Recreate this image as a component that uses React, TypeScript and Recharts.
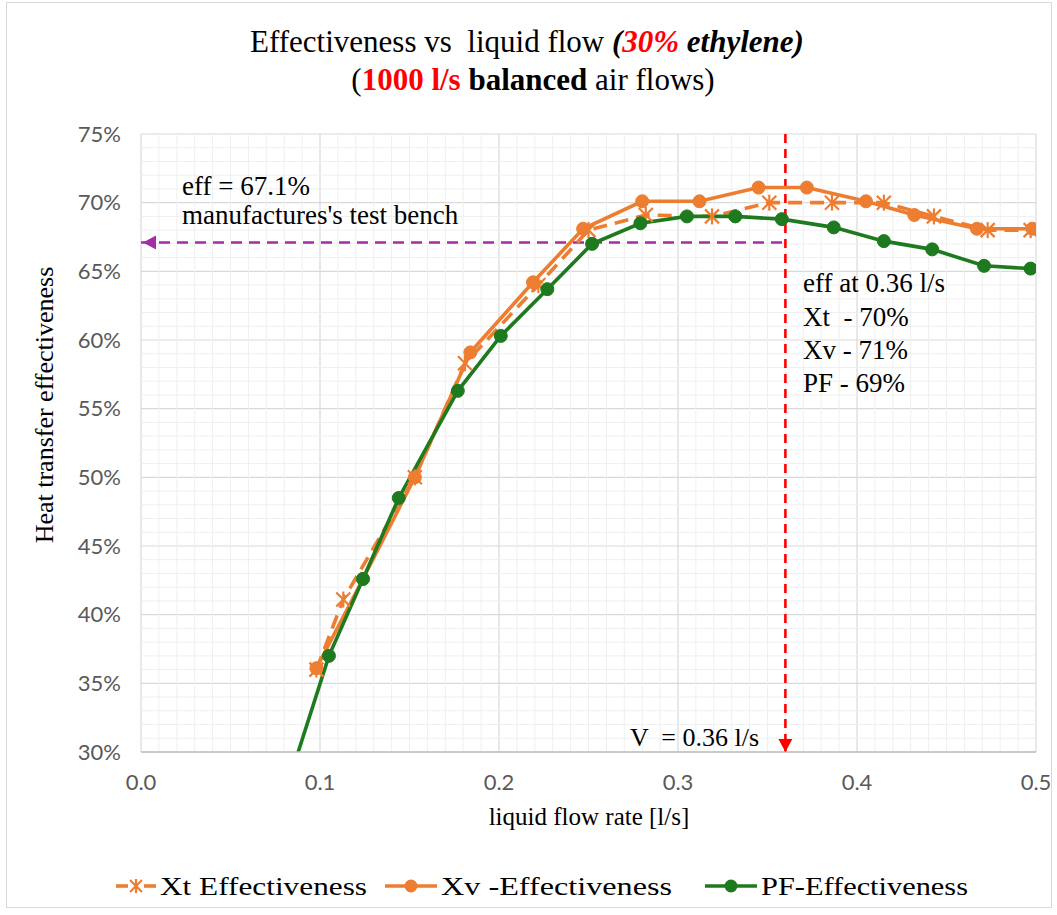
import React from 'react';
import { LineChart, Line, XAxis, YAxis, CartesianGrid, ReferenceLine, ReferenceDot } from 'recharts';

// ---- data (flow in l/s, effectiveness in %) ----
const xtFlow = [0.098, 0.113, 0.153, 0.181, 0.222, 0.250, 0.282, 0.319, 0.351, 0.386, 0.415, 0.443, 0.473, 0.497];
const xtEff = [36.0, 41.1, 50.0, 58.3, 64.0, 68.0, 69.1, 69.0, 70.0, 70.0, 70.0, 69.0, 68.0, 68.0];

const xvFlow = [0.098, 0.124, 0.153, 0.184, 0.219, 0.247, 0.280, 0.312, 0.345, 0.372, 0.405, 0.432, 0.467, 0.498];
const xvEff = [36.1, 42.6, 50.0, 59.1, 64.2, 68.1, 70.1, 70.1, 71.1, 71.1, 70.1, 69.1, 68.1, 68.1];

const pfFlow = [0.078, 0.105, 0.124, 0.144, 0.177, 0.201, 0.227, 0.252, 0.279, 0.305, 0.332, 0.358, 0.387, 0.415, 0.442, 0.471, 0.497];
const pfEff = [26.0, 37.0, 42.6, 48.5, 56.3, 60.3, 63.7, 67.0, 68.5, 69.0, 69.0, 68.8, 68.2, 67.2, 66.6, 65.4, 65.2];

const xTicks = [0, 0.1, 0.2, 0.3, 0.4, 0.5];
const yTicks = [0.30, 0.35, 0.40, 0.45, 0.50, 0.55, 0.60, 0.65, 0.70, 0.75];

const benchEff = 0.671;
const designFlow = 0.36;

const xtData = xtFlow.map((x, i) => ({ x, y: xtEff[i] / 100 }));
const xvData = xvFlow.map((x, i) => ({ x, y: xvEff[i] / 100 }));
const pfData = pfFlow.map((x, i) => ({ x, y: pfEff[i] / 100 }));

// minor grid positions (every 0.01 l/s and every 1 %)
const xMinor: number[] = [];
for (let i = 1; i < 50; i++) if (i % 10 !== 0) xMinor.push(i / 100);
const yMinor: number[] = [];
for (let i = 31; i < 75; i++) if (i % 5 !== 0) yMinor.push(i / 100);

const ORANGE = '#ED7D31';
const GREEN = '#1E7A1E';
const RED = '#FF0000';
const PURPLE = '#A62CA6';
const SERIF = '"Liberation Serif", "Times New Roman", serif';
const SANS = 'Lato, "Liberation Sans", sans-serif';

const StarDot = (props: any) => {
  const { cx, cy, index } = props;
  if (cx == null || cy == null) return null;
  const r = 7;
  return (
    <g key={`st-${index}`} stroke={ORANGE} strokeWidth={2.2}>
      <line x1={cx - r} y1={cy - r} x2={cx + r} y2={cy + r} />
      <line x1={cx - r} y1={cy + r} x2={cx + r} y2={cy - r} />
      <line x1={cx} y1={cy - r - 1} x2={cx} y2={cy + r + 1} />
    </g>
  );
};

const makeCircle = (color: string) => (props: any) => {
  const { cx, cy, index, payload } = props;
  if (cx == null || cy == null || payload.y < 0.3) return <g key={`n-${index}`} />;
  return <circle key={`c-${index}`} cx={cx} cy={cy} r={6.5} fill={color} stroke={color} strokeWidth={1} />;
};

const ArrowDown = (props: any) => {
  const { cx, cy } = props;
  return <path d={`M${cx - 7},${cy - 13} L${cx + 7},${cy - 13} L${cx},${cy} Z`} fill={RED} />;
};
const ArrowLeft = (props: any) => {
  const { cx, cy } = props;
  return <path d={`M${cx + 2},${cy} L${cx + 15},${cy - 7} L${cx + 15},${cy + 7} Z`} fill={PURPLE} />;
};

export default function App() {
  return (
    <div style={{ position: 'relative', width: 1057, height: 915, background: '#fff' }}>
      <style>{`body{margin:0;}`}</style>
      <div style={{ position: 'absolute', left: 6, top: 2, width: 1046, height: 906, border: '1px solid #d9d9d9', boxSizing: 'border-box' }} />
      <div style={{ position: 'absolute', left: 0, top: 0 }}>
        <LineChart width={1057} height={915} margin={{ top: 134, right: 21, bottom: 133, left: 61 }}>
          {xMinor.map((v) => (
            <ReferenceLine key={`xm${v}`} x={v} stroke="#EFEFEF" strokeWidth={1} />
          ))}
          {yMinor.map((v) => (
            <ReferenceLine key={`ym${v}`} y={v} stroke="#EFEFEF" strokeWidth={1} />
          ))}
          <CartesianGrid stroke="#D9D9D9" strokeWidth={1.2} />
          <XAxis
            type="number"
            dataKey="x"
            domain={[0, 0.5]}
            ticks={xTicks}
            allowDataOverflow
            height={30}
            tickFormatter={(v: number) => v.toFixed(1)}
            tick={{ fill: '#595959', fontSize: 22, fontFamily: SANS }}
            tickLine={false}
            tickSize={0}
            tickMargin={22}
            axisLine={{ stroke: '#BFBFBF', strokeWidth: 1.5 }}
          />
          <YAxis
            type="number"
            dataKey="y"
            domain={[0.3, 0.75]}
            ticks={yTicks}
            allowDataOverflow
            width={80}
            tickFormatter={(v: number) => `${Math.round(v * 100)}%`}
            tick={{ fill: '#595959', fontSize: 22, fontFamily: SANS }}
            tickLine={false}
            tickSize={0}
            tickMargin={20}
            axisLine={false}
          />
          <ReferenceLine
            segment={[{ x: 0, y: benchEff }, { x: designFlow, y: benchEff }]}
            stroke={PURPLE}
            strokeWidth={2.6}
            strokeDasharray="11 7"
          />
          <ReferenceDot x={0} y={benchEff} r={0} shape={ArrowLeft} />
          <ReferenceLine
            segment={[{ x: designFlow, y: 0.75 }, { x: designFlow, y: 0.3 }]}
            stroke={RED}
            strokeWidth={2.6}
            strokeDasharray="9 6"
          />
          <ReferenceDot x={designFlow} y={0.3} r={0} shape={ArrowDown} />
          <Line
            data={xtData}
            dataKey="y"
            type="linear"
            stroke={ORANGE}
            strokeWidth={3.6}
            strokeDasharray="14 8"
            dot={StarDot}
            isAnimationActive={false}
          />
          <Line
            data={xvData}
            dataKey="y"
            type="linear"
            stroke={ORANGE}
            strokeWidth={3.6}
            dot={makeCircle(ORANGE)}
            isAnimationActive={false}
          />
          <Line
            data={pfData}
            dataKey="y"
            type="linear"
            stroke={GREEN}
            strokeWidth={3.6}
            dot={makeCircle(GREEN)}
            isAnimationActive={false}
          />
        </LineChart>
      </div>
      <svg width={1057} height={915} style={{ position: 'absolute', left: 0, top: 0, pointerEvents: 'none' }}>
        <g fontFamily={SERIF} fill="#000">
          <text x={527} y={52} fontSize={31} textAnchor="middle" xmlSpace="preserve">
            Effectiveness vs  liquid flow{' '}
            <tspan fontStyle="italic" fontWeight="bold">(</tspan>
            <tspan fontStyle="italic" fontWeight="bold" fill={RED}>30%</tspan>
            <tspan fontStyle="italic" fontWeight="bold"> ethylene)</tspan>
          </text>
          <text x={533} y={90} fontSize={31} textAnchor="middle">
            (<tspan fontWeight="bold" fill={RED}>1000 l/s</tspan>
            <tspan fontWeight="bold"> balanced</tspan> air flows)
          </text>
          <text x={182} y={195} fontSize={27}>eff = 67.1%</text>
          <text x={182} y={224} fontSize={27}>manufactures's test bench</text>
          <text x={803} y={292} fontSize={27}>eff at 0.36 l/s</text>
          <text x={803} y={326} fontSize={27} xmlSpace="preserve">Xt  - 70%</text>
          <text x={803} y={359} fontSize={27}>Xv - 71%</text>
          <text x={803} y={392} fontSize={27}>PF - 69%</text>
          <text x={630} y={746} fontSize={26} xmlSpace="preserve">V  = 0.36 l/s</text>
          <text x={589} y={825} fontSize={25} textAnchor="middle">liquid flow rate [l/s]</text>
          <text x={0} y={0} fontSize={26} textAnchor="middle" transform="translate(53,405) rotate(-90)">Heat transfer effectiveness</text>
          {/* legend */}
          <g>
            <line x1={116} y1={886} x2={128} y2={886} stroke={ORANGE} strokeWidth={3.6} />
            <line x1={144} y1={886} x2={156} y2={886} stroke={ORANGE} strokeWidth={3.6} />
            <g stroke={ORANGE} strokeWidth={2.2}>
              <line x1={130} y1={880} x2={142} y2={892} />
              <line x1={130} y1={892} x2={142} y2={880} />
              <line x1={136} y1={879} x2={136} y2={893} />
            </g>
            <text x={160} y={895} fontSize={26} textLength={207} lengthAdjust="spacingAndGlyphs">Xt Effectiveness</text>
            <line x1={385} y1={886} x2={437} y2={886} stroke={ORANGE} strokeWidth={3.6} />
            <circle cx={411} cy={886} r={6.5} fill={ORANGE} />
            <text x={441} y={895} fontSize={26} textLength={231} lengthAdjust="spacingAndGlyphs">Xv -Effectiveness</text>
            <line x1={705} y1={886} x2={757} y2={886} stroke={GREEN} strokeWidth={3.6} />
            <circle cx={731} cy={886} r={6.5} fill={GREEN} />
            <text x={761} y={895} fontSize={26} textLength={207} lengthAdjust="spacingAndGlyphs">PF-Effectiveness</text>
          </g>
        </g>
      </svg>
    </div>
  );
}
